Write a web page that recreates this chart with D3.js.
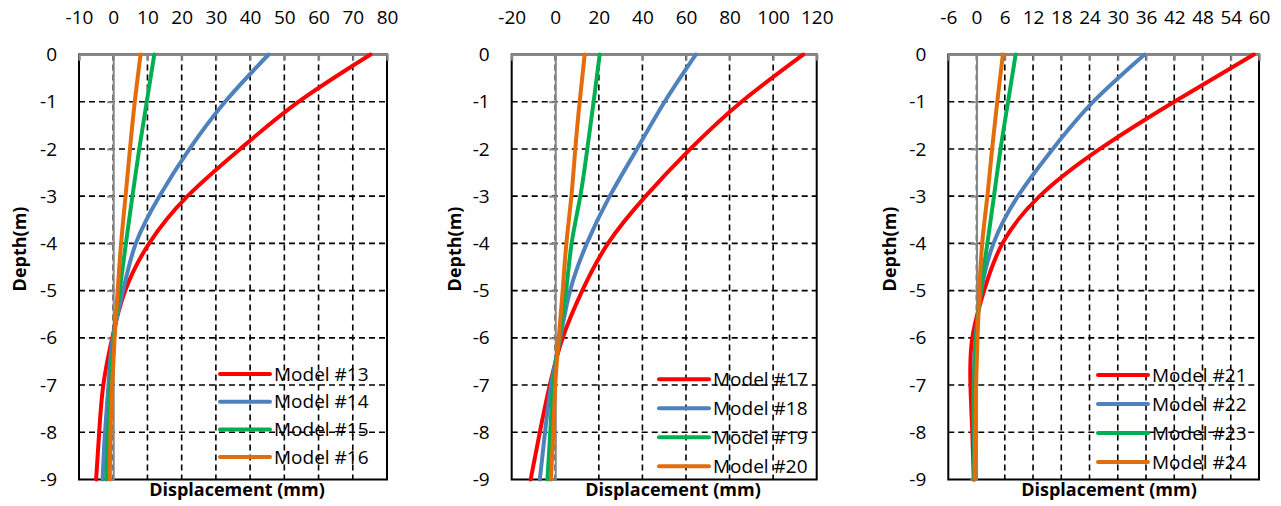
<!DOCTYPE html>
<html>
<head>
<meta charset="utf-8">
<script src="https://cdn.jsdelivr.net/npm/d3@7"></script>
<style>
  body { margin: 0; background: #fff; }
  text { font-family: 'Open Sans', Lato, sans-serif; fill: #000; }
</style>
</head>
<body>
<div class="js-chart"></div>
<script>
'use strict';

// depth of the readings (m)
const depths = [0, -1, -2, -3, -4, -5, -6, -7, -8, -9];
const depthTicks = [0, -1, -2, -3, -4, -5, -6, -7, -8, -9];

// displacement (mm) per model, read at each depth
const model13 = [75.2, 54.2, 37.1, 21.7, 10.5, 3.5, -0.3, -2.9, -4.1, -5.0];
const model14 = [45.4, 32.7, 22.3, 13.5, 6.6, 2.9, -0.1, -1.4, -2.4, -3.1];
const model15 = [12.0, 9.8, 7.6, 5.6, 3.7, 1.9, 0.2, -0.8, -1.5, -2.0];
const model16 = [8.0, 6.3, 4.9, 3.6, 2.3, 1.3, 0.4, -0.3, -0.8, -1.0];

const model17 = [113.8, 85.5, 62.0, 41.5, 24.2, 12.4, 3.4, -2.5, -7.1, -11.3];
const model18 = [64.5, 50.2, 37.5, 25.0, 14.5, 6.8, 2.3, -1.9, -4.7, -7.1];
const model19 = [20.4, 17.6, 14.7, 11.5, 7.5, 5.0, 1.9, -0.9, -2.3, -3.6];
const model20 = [13.5, 11.2, 9.2, 7.4, 5.1, 3.4, 1.6, 0.0, -0.9, -2.0];

const model21 = [58.9, 42.0, 26.2, 13.4, 5.5, 1.6, -0.9, -1.3, -0.9, -0.6];
const model22 = [35.7, 24.8, 16.2, 8.8, 3.6, 1.0, -0.2, -0.6, -0.6, -0.4];
const model23 = [8.3, 6.7, 5.1, 3.7, 2.3, 0.9, -0.1, -0.5, -0.5, -0.5];
const model24 = [5.6, 4.4, 3.3, 2.3, 1.2, 0.6, 0.2, -0.1, -0.3, -0.4];

const names1 = ['Model #13', 'Model #14', 'Model #15', 'Model #16'];
const names2 = ['Model #17', 'Model #18', 'Model #19', 'Model #20'];
const names3 = ['Model #21', 'Model #22', 'Model #23', 'Model #24'];

const xTicks1 = [-10, 0, 10, 20, 30, 40, 50, 60, 70, 80];
const xTicks2 = [-20, 0, 20, 40, 60, 80, 100, 120];
const xTicks3 = [-6, 0, 6, 12, 18, 24, 30, 36, 42, 48, 54, 60];

const colors = ['#ff0000', '#4f81bd', '#00b050', '#e46c0a'];

// layout
const width = 1281, height = 506;
const plotTop = 54.5, plotBottom = 479.5;

const panels = [
    { left: 79, right: 387, ticks: xTicks1, names: names1, series: [model13, model14, model15, model16],
      legend: { x: 220, y: 374, gap: 27.7 }, yTitleX: 20, xTitleX: 237 },
    { left: 511.7, right: 816.7, ticks: xTicks2, names: names2, series: [model17, model18, model19, model20],
      legend: { x: 659, y: 379.3, gap: 29 }, yTitleX: 455, xTitleX: 673 },
    { left: 948.3, right: 1259, ticks: xTicks3, names: names3, series: [model21, model22, model23, model24],
      legend: { x: 1098, y: 375, gap: 29 }, yTitleX: 890, xTitleX: 1109 }
];

const svg = d3.select('.js-chart')
    .append('svg')
    .attr('width', width)
    .attr('height', height);

svg.append('rect')
    .attr('width', width)
    .attr('height', height)
    .attr('fill', '#fff');

const y = d3.scaleLinear().domain([0, -9]).range([plotTop, plotBottom]);

panels.forEach(p => {
    const x = d3.scaleLinear()
        .domain([p.ticks[0], p.ticks[p.ticks.length - 1]])
        .range([p.left, p.right]);

    const g = svg.append('g');

    // gridlines
    g.append('g')
        .selectAll('line')
        .data(p.ticks.slice(1, -1))
        .enter()
        .append('line')
        .attr('x1', d => x(d)).attr('x2', d => x(d))
        .attr('y1', plotTop).attr('y2', plotBottom)
        .attr('stroke', '#000')
        .attr('stroke-width', 1.6)
        .attr('stroke-dasharray', '6,4');

    g.append('g')
        .selectAll('line')
        .data(depthTicks.slice(1, -1))
        .enter()
        .append('line')
        .attr('x1', p.left).attr('x2', p.right)
        .attr('y1', d => y(d)).attr('y2', d => y(d))
        .attr('stroke', '#000')
        .attr('stroke-width', 1.6)
        .attr('stroke-dasharray', '6,4');

    // plot border
    g.append('rect')
        .attr('x', p.left).attr('y', plotTop)
        .attr('width', p.right - p.left)
        .attr('height', plotBottom - plotTop)
        .attr('fill', 'none')
        .attr('stroke', '#000')
        .attr('stroke-width', 2);

    // top axis (x) in grey with ticks pointing down
    const xAxis = d3.axisTop(x)
        .tickValues(p.ticks)
        .tickSize(-6)
        .tickFormat(d => d);
    const xAxisGroup = g.append('g')
        .attr('transform', `translate(0, ${plotTop})`)
        .call(xAxis);
    xAxisGroup.select('.domain').attr('stroke', '#878787').attr('stroke-width', 2);
    xAxisGroup.selectAll('.tick line').attr('stroke', '#878787').attr('stroke-width', 2);
    xAxisGroup.selectAll('.tick text')
        .attr('y', 24 - plotTop)
        .attr('dy', null)
        .style('font-size', '19px')
        .style('font-family', "'Open Sans', sans-serif");

    // vertical axis at zero, grey, with ticks pointing left
    const yAxis = d3.axisLeft(y)
        .tickValues(depthTicks)
        .tickSize(6)
        .tickFormat('');
    const yAxisGroup = g.append('g')
        .attr('transform', `translate(${x(0)}, 0)`)
        .call(yAxis);
    yAxisGroup.select('.domain').attr('stroke', '#878787').attr('stroke-width', 2);
    yAxisGroup.selectAll('.tick line').attr('stroke', '#878787').attr('stroke-width', 2);

    // depth labels beside the plot
    g.append('g')
        .selectAll('text')
        .data(depthTicks)
        .enter()
        .append('text')
        .attr('x', p.left - 22)
        .attr('y', d => y(d))
        .attr('dy', '0.35em')
        .attr('text-anchor', 'end')
        .style('font-size', '19px')
        .text(d => d);

    // curves
    const line = d3.line()
        .x(d => x(d.v))
        .y(d => y(d.depth))
        .curve(d3.curveNatural);

    p.series.forEach((values, i) => {
        g.append('path')
            .datum(values.map((v, k) => ({ v: v, depth: depths[k] })))
            .attr('d', line)
            .attr('fill', 'none')
            .attr('stroke', colors[i])
            .attr('stroke-width', 4)
            .attr('stroke-linecap', 'round');
    });

    // legend
    const legend = g.append('g')
        .selectAll('g')
        .data(p.names)
        .enter()
        .append('g')
        .attr('transform', (d, i) => `translate(${p.legend.x}, ${p.legend.y + i * p.legend.gap})`);

    legend.append('line')
        .attr('x1', 0).attr('x2', 50)
        .attr('stroke', (d, i) => colors[i])
        .attr('stroke-width', 4)
        .attr('stroke-linecap', 'round');

    legend.append('text')
        .attr('x', 54)
        .attr('dy', '0.35em')
        .style('font-size', '19px')
        .text(d => d);

    // axis titles
    g.append('text')
        .attr('transform', `translate(${p.yTitleX}, 249) rotate(-90)`)
        .attr('text-anchor', 'middle')
        .attr('dy', '0.35em')
        .style('font-size', '18px')
        .style('font-weight', 'bold')
        .text('Depth(m)');

    g.append('text')
        .attr('x', p.xTitleX)
        .attr('y', 496)
        .attr('text-anchor', 'middle')
        .style('font-size', '18px')
        .style('font-weight', 'bold')
        .text('Displacement (mm)');
});
</script>
</body>
</html>
